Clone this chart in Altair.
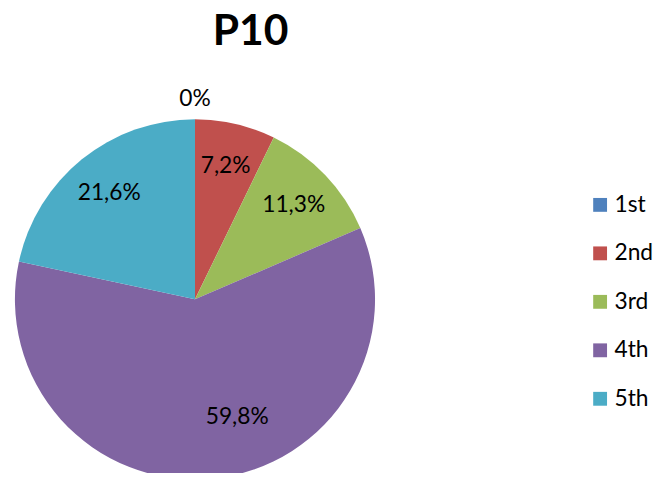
import altair as alt
import pandas as pd

categories = ["1st", "2nd", "3rd", "4th", "5th"]
values = [0.0, 7.2, 11.3, 59.8, 21.6]
labels = ["0%", "7,2%", "11,3%", "59,8%", "21,6%"]
colors = ["#4F81BD", "#C0504D", "#9BBB59", "#8064A2", "#4BACC6"]

df = pd.DataFrame({
    "category": categories,
    "value": values,
    "label": labels,
    "idx": list(range(len(categories))),
})

FONT = "Lato"
FS = 23
TOP = 50
CX, CY, R = 189, 292 - TOP, 182

base = alt.Chart(df).encode(
    theta=alt.Theta("value:Q", stack=True),
    order=alt.Order("idx:Q", sort="ascending"),
    x=alt.value(CX),
    y=alt.value(CY),
)

pie = base.mark_arc(outerRadius=R).encode(
    color=alt.Color(
        "category:N",
        scale=alt.Scale(domain=categories, range=colors),
        sort=categories,
        legend=alt.Legend(
            title=None,
            orient="none",
            legendX=587,
            legendY=185 - TOP,
            symbolType="square",
            symbolSize=196,
            symbolStrokeWidth=0,
            labelFontSize=FS,
            labelFont=FONT,
            labelColor="#000000",
            rowPadding=25,
            labelOffset=3,
            padding=0,
        ),
    ),
)


def label_layer(pred, **kw):
    return base.mark_text(fontSize=FS, font=FONT, color="#000000", **kw).encode(
        text=alt.condition(pred, alt.Text("label:N"), alt.value("")),
    )


small = label_layer((alt.datum.value > 0) & (alt.datum.value < 50), radius=138)
big = label_layer(alt.datum.value >= 50, radius=120, dx=31)
outer = label_layer(alt.datum.value <= 0, radius=202)

chart = alt.layer(pie, small, big, outer).properties(
    width=656,
    height=465 - TOP,
    autosize=alt.AutoSizeParams(type="none"),
    padding={"left": 0, "top": TOP, "right": 0, "bottom": 0},
    title=alt.TitleParams(
        "P10", fontSize=43, font=FONT, fontWeight="bold", color="#000000",
        anchor="start", dx=207, offset=6,
    ),
).configure_view(stroke=None)

chart.save("out.html", embed_options={"renderer": "svg", "actions": False})
